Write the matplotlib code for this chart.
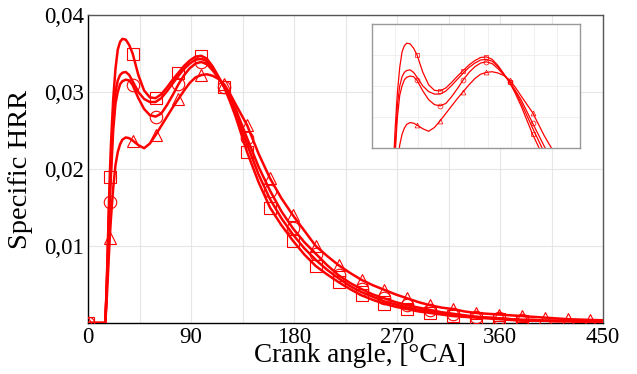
import matplotlib.pyplot as plt
from matplotlib.ticker import FuncFormatter, MultipleLocator

# crank angle grid, deg CA
angle = [0, 10, 14, 15, 16, 17, 18, 19, 20, 22, 24, 26, 28, 30, 33, 36, 39,
         44, 49, 54, 59, 64, 69, 74, 79, 84, 89, 94, 99, 104, 109, 114, 119, 124, 129,
         139, 149, 159, 169, 179, 189, 199, 209, 219, 229, 239, 249, 259, 269, 279,
         289, 299, 309, 319, 329, 339, 349, 359, 369, 379, 389, 399, 409, 419, 429, 439, 450]

hrr_sq = [0, 0, 0, 0, 0.003, 0.008, 0.014, 0.019, 0.023, 0.029, 0.033, 0.0355, 0.0365, 0.0369, 0.0368, 0.0361, 0.0350,
          0.0322, 0.0302, 0.0293, 0.0292, 0.0297, 0.0306, 0.0316, 0.0325, 0.0334, 0.0341, 0.0346, 0.0347, 0.0343, 0.0333, 0.0320, 0.0306, 0.0288, 0.0268,
          0.0222, 0.0183, 0.0150, 0.0127, 0.0107, 0.0089, 0.0074, 0.0063, 0.0053, 0.0044, 0.0036, 0.0030, 0.0025, 0.0021, 0.0018,
          0.0015, 0.0013, 0.0011, 0.0009, 0.0008, 0.0007, 0.0006, 0.0005, 0.0004, 0.0003, 0.0003, 0.0003, 0.0002, 0.0002, 0.0002, 0.0002, 0.0002]

hrr_x = [0, 0, 0, 0, 0.0035, 0.008, 0.013, 0.017, 0.020, 0.027, 0.030, 0.0315, 0.0322, 0.0325, 0.0326, 0.0322, 0.0314,
         0.0300, 0.0291, 0.0287, 0.0287, 0.0292, 0.0301, 0.0311, 0.0321, 0.0330, 0.0337, 0.0342, 0.0343, 0.0340, 0.0331, 0.0319, 0.0307, 0.0291, 0.0273,
         0.0232, 0.0193, 0.0161, 0.0136, 0.0115, 0.0097, 0.0082, 0.0069, 0.0058, 0.0048, 0.0040, 0.0034, 0.0028, 0.0024, 0.0020,
         0.0017, 0.0015, 0.0012, 0.0010, 0.0009, 0.0008, 0.0007, 0.0006, 0.0005, 0.0004, 0.0004, 0.0003, 0.0003, 0.0003, 0.0002, 0.0002, 0.0002]

hrr_ci = [0, 0, 0, 0, 0.003, 0.007, 0.012, 0.0157, 0.019, 0.025, 0.0285, 0.030, 0.0310, 0.0314, 0.0316, 0.0315, 0.0309,
          0.0292, 0.0278, 0.0270, 0.0268, 0.0272, 0.0283, 0.0296, 0.0310, 0.0322, 0.0331, 0.0337, 0.0339, 0.0336, 0.0328, 0.0318, 0.0307, 0.0293, 0.0278,
          0.0240, 0.0203, 0.0172, 0.0145, 0.0123, 0.0105, 0.0090, 0.0075, 0.0062, 0.0052, 0.0044, 0.0037, 0.0032, 0.0027, 0.0023,
          0.0020, 0.0017, 0.0014, 0.0012, 0.0010, 0.0008, 0.0007, 0.0006, 0.0005, 0.0004, 0.0004, 0.0003, 0.0003, 0.0003, 0.0002, 0.0002, 0.0002]

hrr_tr = [0, 0, 0, 0, 0.002, 0.005, 0.008, 0.011, 0.0135, 0.0175, 0.0205, 0.0222, 0.0232, 0.0238, 0.0241, 0.0240, 0.0237,
          0.0231, 0.0227, 0.0233, 0.0244, 0.0256, 0.0268, 0.0280, 0.0291, 0.0302, 0.0312, 0.0319, 0.0322, 0.0323, 0.0321, 0.0317, 0.0310, 0.0298, 0.0284,
          0.0257, 0.0220, 0.0188, 0.0162, 0.0140, 0.0120, 0.0100, 0.0087, 0.0075, 0.0065, 0.0056, 0.0049, 0.0043, 0.0037, 0.0032,
          0.0027, 0.0023, 0.0020, 0.0018, 0.0015, 0.0013, 0.0012, 0.0011, 0.0010, 0.0009, 0.0008, 0.0007, 0.0006, 0.0005, 0.00045, 0.0004, 0.00035]

RED = '#ff0000'
plt.rcParams['font.family'] = ['Liberation Serif', 'DejaVu Serif']


def marks(last):
    return [i for i, a in enumerate(angle) if a == 0 or (a >= 19 and (a - 19) % 20 == 0 and a <= last)]


series = [
    (hrr_sq, 's', marks(379)),
    (hrr_x, None, []),
    (hrr_ci, 'o', marks(379)),
    (hrr_tr, '^', marks(439)),
]

fig = plt.figure(figsize=(6.37, 3.74), dpi=100)
ax = fig.add_axes([88 / 637, 1 - 323 / 374, 515 / 637, 308 / 374])

for y, m, idx in series:
    ax.plot(angle, y, color=RED, lw=1.8, marker=m, markevery=idx if m else None,
            ms=9, mfc='none', mec=RED, mew=0.8, zorder=3)

ax.set_xlim(0, 450)
ax.set_ylim(0, 0.04)
ax.set_xticks([0, 90, 180, 270, 360, 450])
ax.xaxis.set_minor_locator(MultipleLocator(45))
ax.set_yticks([0.01, 0.02, 0.03, 0.04])
ax.yaxis.set_major_formatter(FuncFormatter(lambda v, p: f'{v:.2f}'.replace('.', ',')))
ax.grid(True, which='both', color='#e6e6e6', lw=0.8)
ax.set_axisbelow(True)
ax.tick_params(which='both', length=0, labelsize=16.5)
ax.tick_params(axis='x', pad=3)
ax.tick_params(axis='y', pad=3)
for s in ['left', 'bottom']:
    ax.spines[s].set_color('black')
    ax.spines[s].set_linewidth(1.0)
for s in ['top', 'right']:
    ax.spines[s].set_color('#555555')
    ax.spines[s].set_linewidth(1.0)

ax.set_xlabel('Crank angle, [°CA]', fontsize=19.5, va='baseline')
ax.xaxis.set_label_coords(0.528, -0.127)
ax.set_ylabel('Specific HRR', fontsize=20.5)
ax.yaxis.set_label_coords(-0.107, 0.5)

# zoomed view of the two combustion peaks
ins = fig.add_axes([372 / 637, 1 - 148 / 374, 208 / 637, 124 / 374])
for y, m, idx in series:
    ins.plot(angle, y, color=RED, lw=0.9, marker=m, markevery=idx if m else None,
             ms=3.5, mfc='none', mec=RED, mew=0.5)
ins.set_xlim(0, 180)
ins.set_ylim(0.02, 0.04)
ins.xaxis.set_major_locator(MultipleLocator(20))
ins.yaxis.set_major_locator(MultipleLocator(0.005))
ins.grid(True, color='#eeeeee', lw=0.6)
ins.set_axisbelow(True)
ins.tick_params(length=0, labelbottom=False, labelleft=False)
for s in ins.spines.values():
    s.set_color('#999999')
    s.set_linewidth(1.0)

fig.savefig('out.png', dpi=100)
